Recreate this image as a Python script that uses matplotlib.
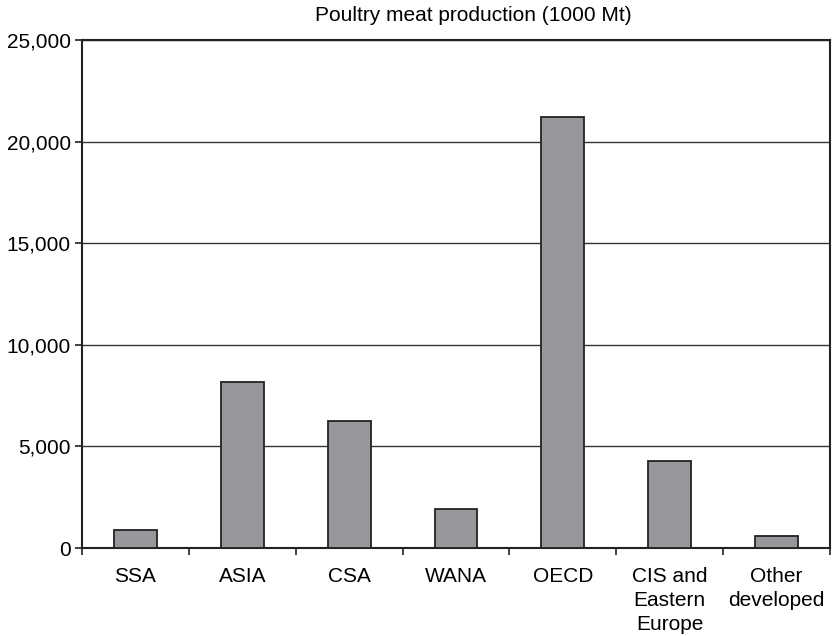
import matplotlib
matplotlib.use('Agg')
import matplotlib.pyplot as plt
import numpy as np

regions = ['SSA', 'ASIA', 'CSA', 'WANA', 'OECD', 'CIS and\nEastern\nEurope', 'Other\ndeveloped']
production = [870, 8170, 6270, 1930, 21200, 4300, 590]
yticks = [0, 5000, 10000, 15000, 20000, 25000]

plt.rcParams['font.family'] = ['Liberation Sans', 'DejaVu Sans']

fig = plt.figure(figsize=(8.33, 6.36), dpi=100)
ax = fig.add_axes([82 / 833, 1 - 548 / 636, 748 / 833, 508 / 636])

x = np.arange(len(regions))
ax.bar(x, production, width=0.4, color='#97989c', edgecolor='#222222', linewidth=1.3, zorder=3)

ax.set_xlim(-0.5, len(regions) - 0.5)
ax.set_ylim(0, 25000)
ax.set_yticks(yticks)
ax.set_yticklabels(['{:,}'.format(v) for v in yticks], fontsize=15)
ax.yaxis.grid(True, color='#333333', linewidth=1.0, zorder=0)

ax.set_xticks(x)
ax.set_xticklabels(regions, fontsize=15, linespacing=1.32)
ax.tick_params(axis='x', which='major', length=0, pad=14)
ax.set_xticks(np.arange(-0.5, len(regions)), minor=True)
ax.tick_params(axis='x', which='minor', length=5, width=1.2, color='#222222')
ax.tick_params(axis='y', length=5, width=1.2, color='#222222', pad=3)

for s in ax.spines.values():
    s.set_color('#222222')
    s.set_linewidth(1.5)

ax.set_title('Poultry meat production (1000 Mt)', fontsize=15, x=0.523, pad=14)

fig.savefig('out.png', dpi=100)
